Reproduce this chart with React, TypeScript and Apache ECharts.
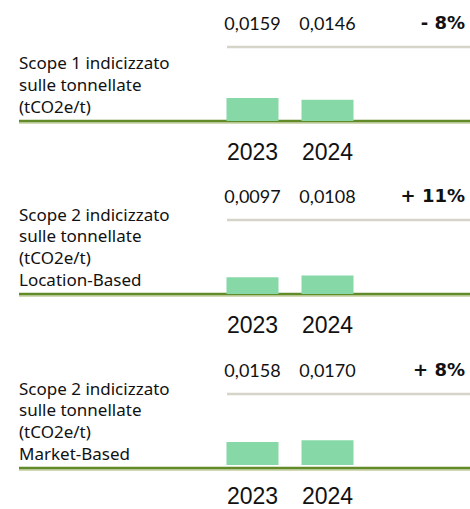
import React, { useEffect, useRef } from "react";
import * as echarts from "echarts";

const years = ["2023", "2024"];
const panelLabels = [
  "Scope 1 indicizzato\nsulle tonnellate\n(tCO2e/t)",
  "Scope 2 indicizzato\nsulle tonnellate\n(tCO2e/t)\nLocation-Based",
  "Scope 2 indicizzato\nsulle tonnellate\n(tCO2e/t)\nMarket-Based",
];
const scope1 = [0.0159, 0.0146];
const scope2Location = [0.0097, 0.0108];
const scope2Market = [0.0158, 0.017];
const changes = ["- 8%", "+ 11%", "+ 8%"];
const axisMax = [0.051, 0.043, 0.049];

const seriesValues = [scope1, scope2Location, scope2Market];

const W = 470;
const H = 509;
const panelTops = [47, 220, 394]; // grey line
const panelBottoms = [121, 294, 468]; // baseline

const fmt = (v: number) => v.toFixed(4).replace(".", ",");

export default function App() {
  const ref = useRef<HTMLDivElement>(null);
  useEffect(() => {
    if (!ref.current) return;
    const chart = echarts.init(ref.current, undefined, { renderer: "svg" });
    const grids: any[] = [];
    const xAxes: any[] = [];
    const yAxes: any[] = [];
    const series: any[] = [];
    const graphics: any[] = [];
    seriesValues.forEach((vals, i) => {
      const top = panelTops[i];
      const bottom = panelBottoms[i];
      grids.push({ left: 215, width: 150, top, height: bottom - top });
      xAxes.push({
        type: "category",
        gridIndex: i,
        data: years,
        position: "bottom",
        axisLine: { show: false },
        axisTick: { show: false },
        axisLabel: {
          interval: 0,
          margin: 18,
          fontFamily: "'Liberation Sans', Arial, sans-serif",
          fontSize: 23,
          lineHeight: 26,
          color: "#111",
        },
      });
      xAxes.push({
        type: "category",
        gridIndex: i,
        data: vals.map(fmt),
        position: "top",
        axisLine: { show: false },
        axisTick: { show: false },
        axisLabel: {
          interval: 0,
          margin: 15,
          fontFamily: "Lato, 'Noto Sans', sans-serif",
          fontSize: 18,
          color: "#111",
        },
      });
      yAxes.push({
        type: "value",
        gridIndex: i,
        min: 0,
        max: axisMax[i],
        show: false,
        splitLine: { show: false },
      });
      series.push({
        type: "bar",
        xAxisIndex: i * 2,
        yAxisIndex: i,
        data: vals,
        barWidth: 52,
        itemStyle: { color: "#87d8a7" },
      });
      graphics.push({
        type: "line",
        shape: { x1: 227, y1: top, x2: W, y2: top },
        style: { stroke: "#d6d4c9", lineWidth: 2.5 },
        silent: true,
      });
      graphics.push({
        type: "line",
        shape: { x1: 19, y1: bottom + 2, x2: W, y2: bottom + 2 },
        style: { stroke: "#a3b56a", lineWidth: 1 },
        silent: true,
      });
      graphics.push({
        type: "line",
        shape: { x1: 19, y1: bottom, x2: W, y2: bottom },
        style: { stroke: "#628a28", lineWidth: 2.5 },
        silent: true,
      });
      graphics.push({
        type: "text",
        x: 19,
        y: bottom - 4,
        style: {
          text: panelLabels[i],
          font: "17px 'Noto Sans', Lato, sans-serif",
          lineHeight: 21.7,
          fill: "#111",
          align: "left",
          verticalAlign: "bottom",
        },
      });
      graphics.push({
        type: "text",
        x: 465,
        y: top - 25,
        style: {
          text: changes[i],
          font: "bold 18px 'DejaVu Sans', sans-serif",
          fill: "#111",
          align: "right",
          verticalAlign: "middle",
        },
      });
    });
    chart.setOption({
      animation: false,
      grid: grids,
      xAxis: xAxes,
      yAxis: yAxes,
      series,
      graphic: graphics,
    });
    return () => chart.dispose();
  }, []);
  return (
    <div
      ref={ref}
      style={{ position: "fixed", left: 0, top: 0, width: W, height: H, background: "#fff" }}
    />
  );
}
